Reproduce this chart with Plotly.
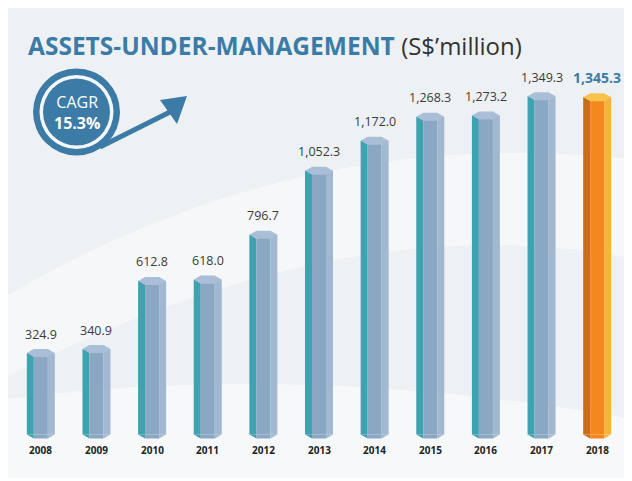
import plotly.graph_objects as go

years = ['2008', '2009', '2010', '2011', '2012', '2013', '2014', '2015', '2016', '2017', '2018']
aum = [324.9, 340.9, 612.8, 618.0, 796.7, 1052.3, 1172.0, 1268.3, 1273.2, 1349.3, 1345.3]
value_labels = ['324.9', '340.9', '612.8', '618.0', '796.7', '1,052.3', '1,172.0',
                '1,268.3', '1,273.2', '1,349.3', '1,345.3']
cagr_label = '15.3%'

OFF = 8                       # page body margin
W, H = 624, 470
# plot area in page pixels
L, R, T, B = 13, 625, 60, 465
YMIN, YMAX = -121.7, 1494.4

blue_faces = dict(left='#3ea2b0', mid='#8aa7c4', right='#a2b8d1', cap='#aabed7')
orange_faces = dict(left='#c96d1b', mid='#f5871f', right='#f9b33b', cap='#f8c24f')

n = len(years)
xs = list(range(n))
faces = [orange_faces if i == n - 1 else blue_faces for i in xs]

hw = 0.2516
iw = 0.126
cap_h = 16.0

fig = go.Figure()

fig.add_trace(go.Bar(x=xs, y=aum, width=hw - iw, offset=-hw,
                     marker=dict(color=[f['left'] for f in faces], line=dict(width=0)),
                     hoverinfo='skip'))
fig.add_trace(go.Bar(x=xs, y=aum, width=2 * iw, offset=-iw,
                     marker=dict(color=[f['mid'] for f in faces], line=dict(width=0)),
                     hoverinfo='skip'))
fig.add_trace(go.Bar(x=xs, y=aum, width=hw - iw, offset=iw,
                     marker=dict(color=[f['right'] for f in faces], line=dict(width=0)),
                     hoverinfo='skip'))

for i, v in zip(xs, aum):
    f = faces[i]
    polys = [
        ([i - hw, i - iw, i - iw, i - hw], [0, 0, -cap_h, 0], f['left']),
        ([i - iw, i + iw, i + iw, i - iw, i - iw], [0, 0, -cap_h, -cap_h, 0], f['mid']),
        ([i + iw, i + hw, i + iw, i + iw], [0, 0, -cap_h, 0], f['right']),
        ([i - hw, i - iw, i + iw, i + hw, i + iw, i - iw, i - hw],
         [v, v + cap_h, v + cap_h, v, v - cap_h, v - cap_h, v], f['cap']),
    ]
    for px_, py_, c in polys:
        fig.add_trace(go.Scatter(x=px_, y=py_, mode='lines', fill='toself',
                                 fillcolor=c, line=dict(width=0, color=c),
                                 hoverinfo='skip', showlegend=False))

annotations = []
for i, (v, lab, yr) in enumerate(zip(aum, value_labels, years)):
    last = i == n - 1
    annotations.append(dict(
        x=i, y=v, xref='x', yref='y', text=('<b>%s</b>' % lab) if last else lab,
        showarrow=False, yshift=20 if last else 19, yanchor='middle', xanchor='center',
        font=dict(family='Open Sans', size=14 if last else 12.5,
                  color='#3a7ca6' if last else '#3a3a3a')))
    annotations.append(dict(
        x=i, y=0, xref='x', yref='y', text='<b>%s</b>' % yr, showarrow=False,
        yshift=-15, yanchor='middle', xanchor='center',
        font=dict(family='Open Sans', size=10, color='#222222')))


def px(xp):
    return (xp - L) / (R - L)


def py(yp):
    return (B - yp) / (B - T)


annotations.append(dict(
    x=px(26), y=py(45), xref='paper', yref='paper', xanchor='left', yanchor='middle',
    showarrow=False,
    text="<b>ASSETS-UNDER-MANAGEMENT</b> <span style='color:#333333;font-size:24px'>(S$\u2019million)</span>",
    font=dict(family='Open Sans', size=24.5, color='#3a7ca6')))

cx, cy = 76.5, 112
annotations.append(dict(
    x=px(cx), y=py(112.5), xref='paper', yref='paper', showarrow=False,
    text='CAGR<br><b>%s</b>' % cagr_label, xanchor='center', yanchor='middle',
    font=dict(family='Open Sans', size=16, color='white')))

shapes = []
shapes.append(dict(type='path', xref='paper', yref='paper', layer='below',
                   path='M %f %f Q %f %f %f %f L %f %f Q %f %f %f %f Z' % (
                       px(0), py(300), px(300), py(120), px(640), py(160),
                       px(640), py(260), px(350), py(200), px(0), py(380)),
                   fillcolor='rgba(255,255,255,0.45)', line=dict(width=0)))
shapes.append(dict(type='path', xref='paper', yref='paper', layer='below',
                   path='M %f %f Q %f %f %f %f L %f %f L %f %f Z' % (
                       px(0), py(400), px(300), py(360), px(640), py(420),
                       px(640), py(481), px(0), py(481)),
                   fillcolor='rgba(255,255,255,0.5)', line=dict(width=0)))


def circ(r, color):
    return dict(type='circle', xref='paper', yref='paper',
                x0=px(cx - r), x1=px(cx + r), y0=py(cy + r), y1=py(cy - r),
                fillcolor=color, line=dict(width=0), layer='above')


shapes.append(dict(type='line', xref='paper', yref='paper',
                   x0=px(100), y0=py(147), x1=px(170), y1=py(112),
                   line=dict(color='#3b7ba6', width=5), layer='above'))
shapes.append(dict(type='path', xref='paper', yref='paper', layer='above',
                   path='M %f %f L %f %f L %f %f Z' % (
                       px(187), py(96), px(160), py(100), px(177), py(124)),
                   fillcolor='#3b7ba6', line=dict(width=0)))
shapes.append(circ(43.5, '#3b7ba6'))
shapes.append(circ(37, '#f4f7f9'))
shapes.append(circ(33.5, '#3b7ba6'))

fig.update_layout(
    width=W, height=H, barmode='overlay', showlegend=False,
    margin=dict(l=L - OFF, r=W - (R - OFF), t=T - OFF, b=H - (B - OFF)),
    paper_bgcolor='#eef1f3', plot_bgcolor='rgba(0,0,0,0)',
    xaxis=dict(range=[-0.5, n - 0.5], visible=False, fixedrange=True),
    yaxis=dict(range=[YMIN, YMAX], visible=False, fixedrange=True),
    annotations=annotations, shapes=shapes,
)

fig.write_html('out.html')
